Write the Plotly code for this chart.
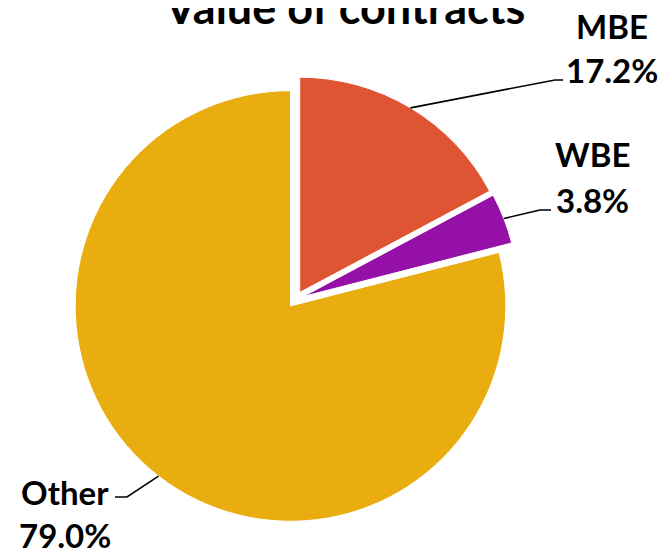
import math
import plotly.graph_objects as go

# ---- data ----
categories = ["MBE", "WBE", "Other"]
shares = [17.2, 3.8, 79.0]
colors = ["#DF5433", "#9410A6", "#E9AD10"]
title_text = "Value of contracts"

# the page body adds an 8px margin; the figure is sized to fill the rest of the window
OFF = 8
WIN_W, WIN_H = 666, 550
W, H = WIN_W - OFF, WIN_H - OFF
PULL = 0.038
# pie box in window pixels (left, top, right, bottom)
box = (72, 76, 519, 523)

def px(x):
    return (x - OFF) / W

def py(y):
    return 1 - (y - OFF) / H

fig = go.Figure(go.Pie(
    labels=categories,
    values=shares,
    sort=False,
    direction="clockwise",
    rotation=0,
    pull=[PULL] * len(shares),
    marker=dict(colors=colors, line=dict(color="white", width=1)),
    textinfo="none",
    hoverinfo="label+percent",
    showlegend=False,
    domain=dict(x=[px(box[0]), px(box[2])], y=[py(box[3]), py(box[1])]),
))

# geometry of the pie (window pixels) for leader lines
cx = (box[0] + box[2]) / 2
cy = (box[1] + box[3]) / 2
r = min(box[2] - box[0], box[3] - box[1]) / (2 + 2 * PULL)

# label layout (window pixels): elbow, line end, label center x, name y, pct y
label_layout = {
    "MBE": dict(elbow=(555, 80), end=(563, 80), tx=612, ny=26, vy=70),
    "WBE": dict(elbow=(540, 210), end=(551, 210), tx=592, ny=154, vy=200),
    "Other": dict(elbow=(127, 497), end=(115, 497), tx=65, ny=492, vy=535),
}

font_family = "Lato"
label_font = dict(family=font_family, size=33, color="black", weight="bold")

total = sum(shares)
cum = 0.0
shapes = []
annotations = []
for cat, v in zip(categories, shares):
    mid = (cum + v / 2) / total * 2 * math.pi
    cum += v
    dx, dy = math.sin(mid), -math.cos(mid)
    sx = cx + r * (1 + PULL) * dx
    sy = cy + r * (1 + PULL) * dy
    L = label_layout[cat]
    ex, ey = L["elbow"]
    fx, fy = L["end"]
    shapes.append(dict(type="path", xref="paper", yref="paper",
                       path=f"M {px(sx)},{py(sy)} L {px(ex)},{py(ey)} L {px(fx)},{py(fy)}",
                       line=dict(color="black", width=1.6)))
    annotations.append(dict(text=cat, x=px(L["tx"]), y=py(L["ny"]), xref="paper", yref="paper",
                            showarrow=False, xanchor="center", yanchor="middle", font=label_font))
    annotations.append(dict(text=f"{v:.1f}%", x=px(L["tx"]), y=py(L["vy"]), xref="paper", yref="paper",
                            showarrow=False, xanchor="center", yanchor="middle", font=label_font))

annotations.append(dict(text=title_text, x=px(344), y=py(7), xref="paper", yref="paper",
                        showarrow=False, xanchor="center", yanchor="middle",
                        font=dict(family=font_family, size=45, color="black", weight="bold")))

fig.update_layout(
    width=W, height=H,
    margin=dict(l=0, r=0, t=0, b=0),
    paper_bgcolor="white",
    plot_bgcolor="white",
    shapes=shapes,
    annotations=annotations,
)

fig.write_html("out.html")
